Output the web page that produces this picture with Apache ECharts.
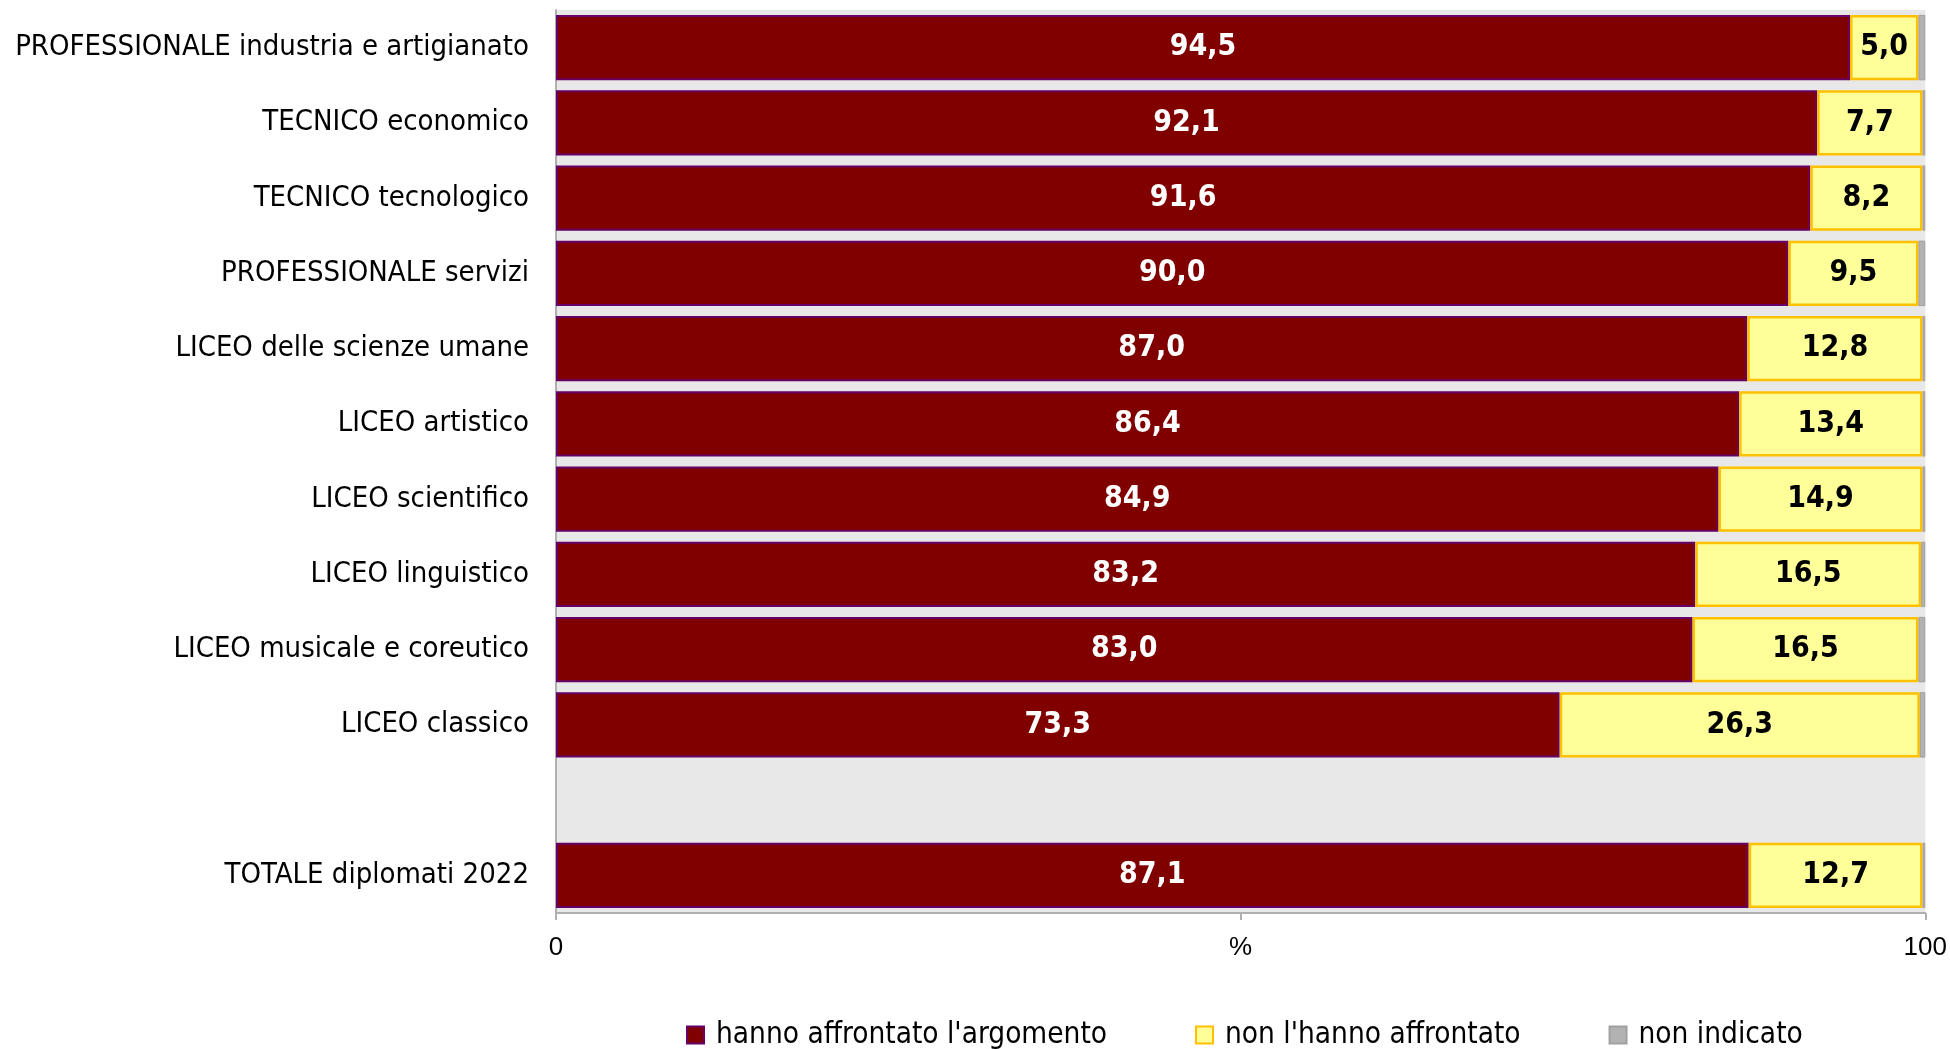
<!DOCTYPE html>
<html>
<head>
<meta charset="utf-8">
<script src="https://cdn.jsdelivr.net/npm/echarts@6/dist/echarts.min.js"></script>
<style>
  html, body { margin: 0; padding: 0; background: #fff; }
  #chart { width: 1950px; height: 1049px; }
</style>
</head>
<body>
<div id="chart"></div>
<script>
// categorie (la riga vuota separa il totale)
const categories = [
  'PROFESSIONALE industria e artigianato',
  'TECNICO economico',
  'TECNICO tecnologico',
  'PROFESSIONALE servizi',
  'LICEO delle scienze umane',
  'LICEO artistico',
  'LICEO scientifico',
  'LICEO linguistico',
  'LICEO musicale e coreutico',
  'LICEO classico',
  '',
  'TOTALE diplomati 2022'
];
const affrontato = [94.5, 92.1, 91.6, 90.0, 87.0, 86.4, 84.9, 83.2, 83.0, 73.3, null, 87.1];
const nonAffrontato = [5.0, 7.7, 8.2, 9.5, 12.8, 13.4, 14.9, 16.5, 16.5, 26.3, null, 12.7];
const nonIndicato = [0.5, 0.2, 0.2, 0.5, 0.2, 0.2, 0.2, 0.3, 0.5, 0.4, null, 0.2];
const seriesNames = ["hanno affrontato l'argomento", "non l'hanno affrontato", 'non indicato'];
const xTickLabels = { 0: '0', 50: '%', 100: '100' };

const fmt = v => v.toFixed(1).replace('.', ',');

const chart = echarts.init(document.getElementById('chart'));

const labelFont = 'DejaVu Sans Condensed';

chart.setOption({
  animation: false,
  grid: {
    left: 556,
    right: 23,
    top: 10,
    bottom: 136,
    show: true,
    backgroundColor: '#e8e8e8',
    borderWidth: 0
  },
  legend: {
    top: 1015,
    left: 681,
    itemWidth: 17,
    itemHeight: 17,
    itemGap: 88,
    icon: 'rect',
    textStyle: { fontSize: 29.5, fontFamily: labelFont, color: '#000', padding: [0, 0, 0, 7] },
    data: seriesNames
  },
  xAxis: {
    type: 'value',
    min: 0,
    max: 100,
    interval: 50,
    axisLine: { show: true, lineStyle: { color: '#b0b0b0', width: 2 } },
    axisTick: { show: true, length: 7, lineStyle: { color: '#b0b0b0', width: 2 } },
    splitLine: { show: false },
    axisLabel: {
      fontSize: 26,
      fontFamily: 'Liberation Sans',
      color: '#000',
      margin: 22,
      formatter: v => xTickLabels[v] || ''
    }
  },
  yAxis: {
    type: 'category',
    inverse: true,
    data: categories,
    axisLine: { show: true, lineStyle: { color: '#b0b0b0', width: 2 } },
    axisTick: { show: false },
    axisLabel: {
      fontSize: 29,
      fontFamily: labelFont,
      color: '#000',
      margin: 27,
      padding: [4, 0, 0, 0]
    }
  },
  series: [
    {
      name: seriesNames[0],
      type: 'bar',
      stack: 'tot',
      barCategoryGap: '13%',
      data: affrontato,
      itemStyle: { color: '#800000', borderColor: '#660066', borderWidth: 2 },
      label: {
        show: true,
        position: 'inside',
        color: '#fff',
        fontWeight: 'bold',
        fontSize: 30,
        fontFamily: labelFont,
        padding: [4, 0, 0, 0],
        formatter: p => fmt(p.value)
      }
    },
    {
      name: seriesNames[1],
      type: 'bar',
      stack: 'tot',
      data: nonAffrontato,
      itemStyle: { color: '#ffff99', borderColor: '#ffc000', borderWidth: 2.5 },
      label: {
        show: true,
        position: 'inside',
        color: '#000',
        fontWeight: 'bold',
        fontSize: 30,
        fontFamily: labelFont,
        padding: [4, 0, 0, 0],
        formatter: p => fmt(p.value)
      }
    },
    {
      name: seriesNames[2],
      type: 'bar',
      stack: 'tot',
      data: nonIndicato,
      itemStyle: { color: '#b2b2b2', borderColor: '#a0a0a0', borderWidth: 1 }
    }
  ]
});
</script>
</body>
</html>
